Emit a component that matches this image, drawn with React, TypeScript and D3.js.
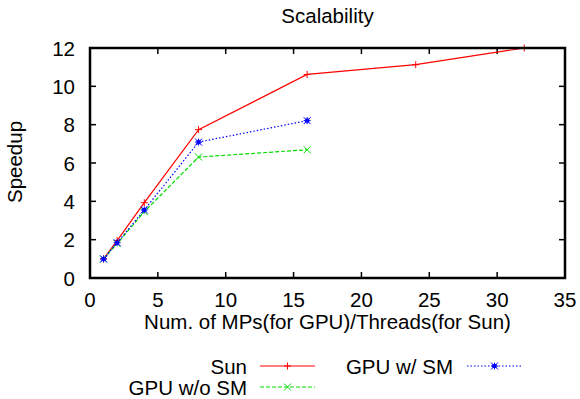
import React from "react";
import * as d3 from "d3";

const threadsSun = [1, 2, 4, 8, 16, 24, 32];
const speedupSun = [1, 1.95, 3.93, 7.74, 10.62, 11.13, 12];
const mpsGpu = [1, 2, 4, 8, 16];
const speedupGpuNoSM = [1, 1.8, 3.46, 6.31, 6.69];
const speedupGpuSM = [0.99, 1.84, 3.55, 7.09, 8.21];
const xTicks = [0, 5, 10, 15, 20, 25, 30, 35];
const yTicks = [0, 2, 4, 6, 8, 10, 12];

const W = 580, H = 399;
const L = 90, R = 565, T = 48, B = 278;
const FONT = "Liberation Sans, Arial, sans-serif";
const FS = 20.5;

function Marker({ x, y, kind, color }: { x: number; y: number; kind: string; color: string }) {
  const s = 3.5;
  const plus = <path d={`M${x - s},${y}H${x + s}M${x},${y - s}V${y + s}`} />;
  const cross = <path d={`M${x - s},${y - s}L${x + s},${y + s}M${x - s},${y + s}L${x + s},${y - s}`} />;
  return (
    <g stroke={color} strokeWidth={1} fill="none">
      {(kind === "plus" || kind === "star") && plus}
      {(kind === "cross" || kind === "star") && cross}
      {kind === "star" && <rect x={x - 2} y={y - 2} width={4} height={4} fill={color} stroke="none" />}
    </g>
  );
}

export default function App() {
  const x = d3.scaleLinear().domain([0, 35]).range([L, R]);
  const y = d3.scaleLinear().domain([0, 12]).range([B, T]);
  const line = d3.line<[number, number]>().x(d => x(d[0])).y(d => y(d[1]));

  const series = [
    { xs: threadsSun, ys: speedupSun, color: "#ff0000", dash: undefined as string | undefined, kind: "plus" },
    { xs: mpsGpu, ys: speedupGpuNoSM, color: "#00e000", dash: "4,2", kind: "cross" },
    { xs: mpsGpu, ys: speedupGpuSM, color: "#0000ff", dash: "1.5,2", kind: "star" },
  ];

  const legend = [
    { label: "Sun", tx: 247, x1: 260, x2: 315, ly: 366, s: 0 },
    { label: "GPU w/o SM", tx: 247, x1: 260, x2: 315, ly: 387, s: 1 },
    { label: "GPU w/ SM", tx: 453, x1: 467, x2: 522, ly: 366, s: 2 },
  ];

  const tickLen = 6;
  const cx = (L + R) / 2;
  return (
    <svg width={W} height={H} style={{ position: "absolute", left: 0, top: 0, background: "#fff" }} fontFamily={FONT}>
      <text x={cx} y={23} textAnchor="middle" fontSize={FS}>Scalability</text>
      <g stroke="#000" strokeWidth={1.5}>
        {xTicks.map(t => (
          <g key={"x" + t}>
            <line x1={x(t)} x2={x(t)} y1={B} y2={B - tickLen} />
            <line x1={x(t)} x2={x(t)} y1={T} y2={T + tickLen} />
          </g>
        ))}
        {yTicks.map(t => (
          <g key={"y" + t}>
            <line x1={L} x2={L + tickLen} y1={y(t)} y2={y(t)} />
            <line x1={R} x2={R - tickLen} y1={y(t)} y2={y(t)} />
          </g>
        ))}
      </g>
      <g fontSize={FS}>
        {xTicks.map(t => (
          <text key={"xl" + t} x={x(t)} y={307} textAnchor="middle">{t}</text>
        ))}
        {yTicks.map(t => (
          <text key={"yl" + t} x={75} y={y(t) + 7.5} textAnchor="end">{t}</text>
        ))}
      </g>
      <text x={cx} y={329} textAnchor="middle" fontSize={FS}>Num. of MPs(for GPU)/Threads(for Sun)</text>
      <text transform={`translate(22,162) rotate(-90)`} textAnchor="middle" fontSize={FS}>Speedup</text>
      {series.map((s, i) => {
        const pts: [number, number][] = s.xs.map((v, j) => [v, s.ys[j]]);
        return (
          <g key={i}>
            <path d={line(pts) || ""} fill="none" stroke={s.color} strokeWidth={1.2} strokeDasharray={s.dash} />
            {pts.map((p, j) => <Marker key={j} x={x(p[0])} y={y(p[1])} kind={s.kind} color={s.color} />)}
          </g>
        );
      })}
      <rect x={L} y={T} width={R - L} height={B - T} fill="none" stroke="#000" strokeWidth={2.5} />
      {legend.map((l, i) => {
        const s = series[l.s];
        return (
          <g key={i}>
            <text x={l.tx} y={l.ly + 8} textAnchor="end" fontSize={FS}>{l.label}</text>
            <line x1={l.x1} x2={l.x2} y1={l.ly} y2={l.ly} stroke={s.color} strokeWidth={1.2} strokeDasharray={s.dash} />
            <Marker x={(l.x1 + l.x2) / 2} y={l.ly} kind={s.kind} color={s.color} />
          </g>
        );
      })}
    </svg>
  );
}
